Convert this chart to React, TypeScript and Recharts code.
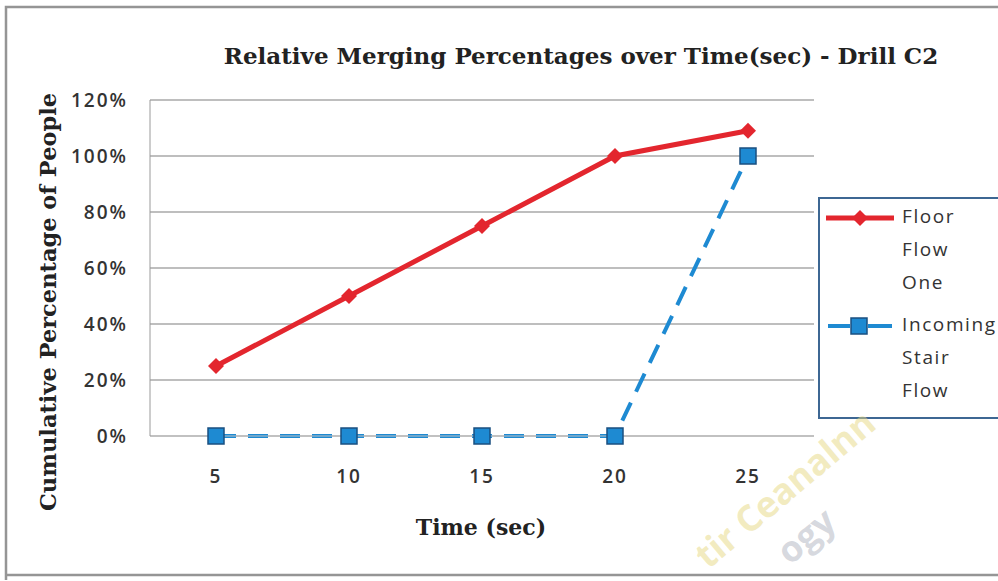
import React from 'react';
import {
  LineChart,
  Line,
  XAxis,
  YAxis,
  CartesianGrid,
  Legend,
  Label,
  Customized,
} from 'recharts';

const times = [5, 10, 15, 20, 25];
const floorFlowOne = [25, 50, 75, 100, 109];
const incomingStairFlow = [0, 0, 0, 0, 100];
const yTicks = [0, 20, 40, 60, 80, 100, 120];

const RED = '#e3262e';
const BLUE = '#1e8ad2';
const SERIF = '"DejaVu Serif", "Liberation Serif", serif';
const SANS = '"Open Sans", "Noto Sans", sans-serif';

const data = times.map((t, i) => ({
  time: t,
  floor: floorFlowOne[i],
  stair: incomingStairFlow[i],
}));

if (typeof document !== 'undefined') document.body.style.margin = '0';

function Diamond(props: any) {
  const { cx, cy } = props;
  if (cx == null || cy == null) return null;
  const r = 8;
  return (
    <path
      d={`M${cx},${cy - r}L${cx + r},${cy}L${cx},${cy + r}L${cx - r},${cy}Z`}
      fill={RED}
    />
  );
}

function Square(props: any) {
  const { cx, cy } = props;
  if (cx == null || cy == null) return null;
  const s = 16;
  return (
    <rect
      x={cx - s / 2}
      y={cy - s / 2}
      width={s}
      height={s}
      fill={BLUE}
      stroke="#1a4f80"
      strokeWidth={1.5}
    />
  );
}

function LegendBox() {
  const rows = [
    { lines: ['Floor', 'Flow', 'One'], color: RED, dash: false },
    { lines: ['Incoming', 'Stair', 'Flow'], color: BLUE, dash: true },
  ];
  return (
    <div
      style={{
        width: 190,
        height: 222,
        border: '2px solid #3d6793',
        background: '#fff',
        boxSizing: 'border-box',
        paddingTop: 4,
        fontFamily: SANS,
        fontSize: 19,
        letterSpacing: 1.6,
        color: '#333',
        textAlign: 'left',
      }}
    >
      {rows.map((r, i) => (
        <div key={i} style={{ display: 'flex', marginBottom: i === 0 ? 12 : 0 }}>
          <svg width={82} height={30} style={{ flex: 'none' }}>
            {r.dash ? (
              <>
                <line x1={8} y1={15} x2={30} y2={15} stroke={r.color} strokeWidth={4} />
                <line x1={48} y1={15} x2={72} y2={15} stroke={r.color} strokeWidth={4} />
                <Square cx={39} cy={15} />
              </>
            ) : (
              <>
                <line x1={6} y1={15} x2={74} y2={15} stroke={r.color} strokeWidth={5} />
                <Diamond cx={40} cy={15} />
              </>
            )}
          </svg>
          <div style={{ lineHeight: '33px', marginTop: -3, whiteSpace: 'nowrap' }}>
            {r.lines.map((l) => (
              <div key={l}>{l}</div>
            ))}
          </div>
        </div>
      ))}
    </div>
  );
}

const tickStyle = {
  fontFamily: SANS,
  fontSize: 19,
  fontWeight: 600,
  fill: '#333',
  letterSpacing: 2,
};

const titleStyle = {
  fontFamily: SERIF,
  fontWeight: 'bold' as const,
  fontSize: 22,
  fill: '#222',
};

const markStyle = {
  fontFamily: SANS,
  fontWeight: 700,
  fontSize: 36,
};

export default function App() {
  return (
    <div
      style={{
        position: 'relative',
        width: 998,
        height: 581,
        background: '#fff',
        overflow: 'hidden',
      }}
    >
      <div
        style={{
          position: 'absolute',
          left: 0,
          top: 42,
          width: 1162,
          textAlign: 'center',
          fontFamily: SERIF,
          fontWeight: 'bold',
          fontSize: 23,
          color: '#222',
        }}
      >
        Relative Merging Percentages over Time(sec) - Drill C2
      </div>
      <div style={{ position: 'absolute', left: 0, top: 0 }}>
        <LineChart
          width={998}
          height={581}
          data={data}
          margin={{ top: 100, right: 184, bottom: 115, left: 90 }}
        >
          {/* outer frame */}
          <Customized
            component={() => (
              <path
                d="M6,580 L6,7 L998,7 M6,575 L998,575"
                fill="none"
                stroke="#959595"
                strokeWidth={2.5}
              />
            )}
          />
          <CartesianGrid vertical={false} stroke="#a8a8a8" strokeWidth={1.5} />
          <XAxis
            dataKey="time"
            padding={{ left: 66, right: 66 }}
            axisLine={{ stroke: '#c4c4c4' }}
            tickLine={false}
            tickMargin={28}
            tick={tickStyle}
          >
            <Label
              content={(p: any) => (
                <text
                  x={p.viewBox.x + p.viewBox.width / 2 - 1}
                  y={p.viewBox.y + 91}
                  textAnchor="middle"
                  dominantBaseline="central"
                  style={titleStyle}
                >
                  Time (sec)
                </text>
              )}
            />
          </XAxis>
          <YAxis
            width={60}
            domain={[0, 120]}
            ticks={yTicks}
            axisLine={{ stroke: '#9a9a9a' }}
            tickLine={false}
            tickMargin={16}
            tickFormatter={(v) => `${v}%`}
            tick={tickStyle}
          >
            <Label
              content={(p: any) => {
                const x = 48;
                const y = p.viewBox.y + p.viewBox.height / 2 + 34;
                return (
                  <text
                    x={x}
                    y={y}
                    textAnchor="middle"
                    dominantBaseline="central"
                    transform={`rotate(-90, ${x}, ${y})`}
                    style={{ ...titleStyle, fontSize: 22.5 }}
                  >
                    Cumulative Percentage of People
                  </text>
                );
              }}
            />
          </YAxis>
          {/* centered + middle so the legend reserves no plot space */}
          <Legend
            layout="horizontal"
            verticalAlign="middle"
            align="center"
            wrapperStyle={{ left: 818, top: 197, width: 190 }}
            content={() => <LegendBox />}
          />
          <Line
            type="linear"
            dataKey="floor"
            name="Floor Flow One"
            stroke={RED}
            strokeWidth={5}
            dot={<Diamond />}
            isAnimationActive={false}
          />
          <Line
            type="linear"
            dataKey="stair"
            name="Incoming Stair Flow"
            stroke={BLUE}
            strokeWidth={4}
            strokeDasharray="20 12"
            dot={<Square />}
            isAnimationActive={false}
          />
        </LineChart>
      </div>
      {/* faint diagonal stamp in the lower right */}
      <svg
        width={998}
        height={581}
        style={{ position: 'absolute', left: 0, top: 0, pointerEvents: 'none' }}
      >
        <text
          x={708}
          y={570}
          transform="rotate(-40, 708, 570)"
          style={markStyle}
          fill="rgba(230, 215, 130, 0.5)"
        >
          tir Ceanalnn
        </text>
        <text
          x={790}
          y={566}
          transform="rotate(-40, 790, 566)"
          style={markStyle}
          fill="rgba(165, 170, 182, 0.45)"
        >
          ogy
        </text>
      </svg>
    </div>
  );
}
